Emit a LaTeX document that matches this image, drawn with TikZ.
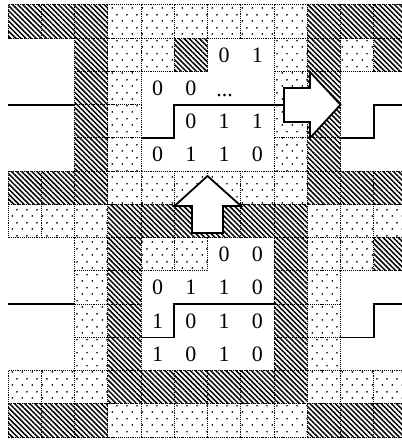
\documentclass[tikz,border=0pt]{standalone}
\usepackage{fontspec}
\setmainfont{Liberation Serif}
\usetikzlibrary{patterns.meta}

% sparse staggered stipple for the dotted cells
\pgfdeclarepattern{
  name=stipple,
  type=uncolored,
  bottom left={\pgfpoint{0pt}{0pt}},
  top right={\pgfpoint{10pt}{13pt}},
  tile size={\pgfpoint{10pt}{13pt}},
  code={
    \pgfpathcircle{\pgfpoint{2.5pt}{3.2pt}}{1pt}
    \pgfpathcircle{\pgfpoint{7.5pt}{9.7pt}}{1pt}
    \pgfusepath{fill}
  }
}

\begin{document}
\begin{tikzpicture}[x=1pt,y=1pt,
  fillH/.style={pattern={Lines[angle=-45,distance=3.6pt,line width=1.5pt]}},
  fillD/.style={pattern=stipple},
  fillW/.style={},
  edgeH/.style={draw,cellrule},
  edgeD/.style={draw,cellrule},
  edgeW/.style={},
  cellrule/.style={line width=1pt,dash pattern=on 1pt off 0.9pt},
  signal/.style={line width=1.8pt,line join=miter},
  bigarrow/.style={draw,fill=white,line width=1.8pt,line join=miter},
  digit/.style={font=\fontsize{22}{22}\selectfont,inner sep=0pt}
]
\useasboundingbox (0,0) rectangle (402,440);
\fill[white] (0,0) rectangle (402,440);

% cell layout: H = hatched, D = dotted, W = blank
\def\layout{
  {H,H,H,D,D,D,D,D,D,H,H,H},
  {W,W,H,D,D,H,W,W,D,H,D,H},
  {W,W,H,D,W,W,W,W,D,H,W,W},
  {W,W,H,D,W,W,W,W,D,H,W,W},
  {W,W,H,D,W,W,W,W,D,H,W,W},
  {H,H,H,D,D,D,D,D,D,H,H,H},
  {D,D,D,H,H,H,H,H,H,D,D,D},
  {W,W,D,H,D,D,W,W,H,D,D,H},
  {W,W,D,H,W,W,W,W,H,D,W,W},
  {W,W,D,H,W,W,W,W,H,D,W,W},
  {W,W,D,H,W,W,W,W,H,D,W,W},
  {D,D,D,H,H,H,H,H,H,D,D,D},
  {H,H,H,D,D,D,D,D,D,H,H,H}}

\begin{scope}
\clip (0,0) rectangle (402,440);
% fills first, then the dotted cell rules on top
\foreach \cells [count=\r from 0] in \layout {
  \foreach \k [count=\c from 0] in \cells {
    \path[fill\k] ({8+33.25*\c},{435-33.25*\r}) rectangle ++(33.25,-33.25);
  }
}
\foreach \cells [count=\r from 0] in \layout {
  \foreach \k [count=\c from 0] in \cells {
    \path[edge\k] ({8+33.25*\c},{435-33.25*\r}) rectangle ++(33.25,-33.25);
  }
}
\end{scope}

% bit values
\foreach \c/\r/\t in {6/1/0,7/1/1,
                      4/2/0,5/2/0,
                      5/3/0,6/3/1,7/3/1,
                      4/4/0,5/4/1,6/4/1,7/4/0,
                      6/7/0,7/7/0,
                      4/8/0,5/8/1,6/8/1,7/8/0,
                      4/9/1,5/9/0,6/9/1,7/9/0,
                      4/10/1,5/10/0,6/10/1,7/10/0} {
  \node[digit] (d\c-\r) at ({8+33.25*(\c+0.5)},{435-33.25*(\r+0.5)}) {\t};
}
\node[digit,anchor=base] (ellipsis) at (224.5,343.5) {...};

% upper signal
\coordinate (ua) at (8,335.25);
\coordinate (ub) at (74.5,335.25);
\coordinate (uc) at (141,302);
\coordinate (ud) at (174.25,302);
\coordinate (ue) at (174.25,335.25);
\coordinate (uf) at (284,335.25);
\coordinate (ug) at (340.5,302);
\coordinate (uh) at (373.75,302);
\coordinate (ui) at (373.75,335.25);
\coordinate (uj) at (402,335.25);
\draw[signal] (ua) -- (ub);
\draw[signal] (uc) -- (ud) -- (ue) -- (uf);
\draw[signal] (ug) -- (uh) -- (ui) -- (uj);

% lower signal
\coordinate (la) at (8,135.75);
\coordinate (lb) at (74.5,135.75);
\coordinate (lc) at (141,102.5);
\coordinate (ld) at (174.25,102.5);
\coordinate (le) at (174.25,135.75);
\coordinate (lf) at (274,135.75);
\coordinate (lg) at (340.5,102.5);
\coordinate (lh) at (373.75,102.5);
\coordinate (li) at (373.75,135.75);
\coordinate (lj) at (402,135.75);
\draw[signal] (la) -- (lb);
\draw[signal] (lc) -- (ld) -- (le) -- (lf);
\draw[signal] (lg) -- (lh) -- (li) -- (lj);

% block arrows
\draw[bigarrow] (284,352) -- (310,352) -- (310,368) -- (340.5,335.25)
  -- (310,302) -- (310,318) -- (284,318) -- cycle;
\draw[bigarrow] (192,207) -- (192,234) -- (174.5,234) -- (207.5,264)
  -- (241,234) -- (223,234) -- (223,207) -- cycle;
\end{tikzpicture}
\end{document}
